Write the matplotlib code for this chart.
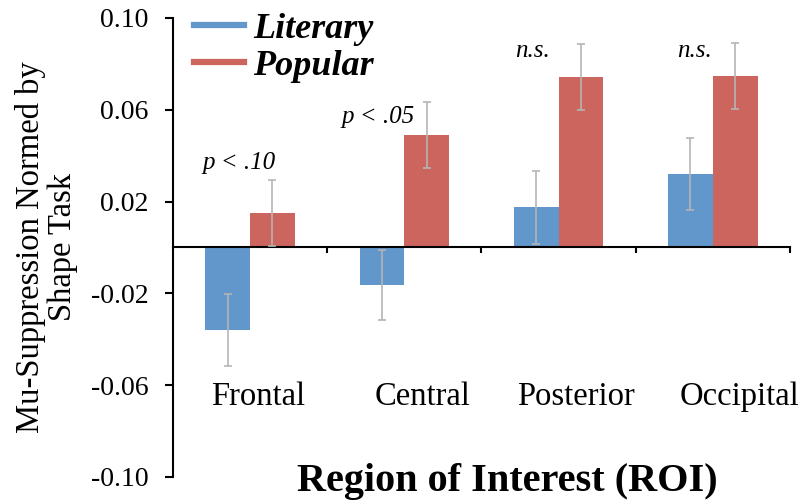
import numpy as np
import matplotlib
matplotlib.use('Agg')
import matplotlib.pyplot as plt

plt.rcParams['font.family'] = ['Liberation Serif', 'DejaVu Serif']

# datos
regiones = ['Frontal', 'Central', 'Posterior', 'Occipital']
literary = [-0.036, -0.0162, 0.0175, 0.032]
literary_err = [0.0158, 0.0152, 0.0160, 0.0158]
popular = [0.0152, 0.049, 0.0744, 0.0748]
popular_err = [0.0144, 0.0145, 0.0144, 0.0144]
anotaciones = ['p < .10', 'p < .05', 'n.s.', 'n.s.']
anot_y = [0.037, 0.057, 0.0858, 0.0858]
yticks = [-0.10, -0.06, -0.02, 0.02, 0.06, 0.10]

azul = '#6197CB'
rojo = '#CD655F'
gris = '#B5B5B5'

fig = plt.figure(figsize=(7.99, 5.04), dpi=100)
ax = fig.add_axes([0.2165, 0.0536, 0.7722, 0.9107])

x = np.arange(len(regiones))
w = 0.29
ax.bar(x - w/2, literary, w, color=azul, zorder=2)
ax.bar(x + w/2, popular, w, color=rojo, zorder=2)
ax.errorbar(x - w/2, literary, yerr=literary_err, fmt='none', ecolor=gris,
            elinewidth=1.2, capsize=3, capthick=1.2, zorder=3)
ax.errorbar(x + w/2, popular, yerr=popular_err, fmt='none', ecolor=gris,
            elinewidth=1.2, capsize=3, capthick=1.2, zorder=3)

ax.set_xlim(-0.5, 3.5)
ax.set_ylim(-0.10, 0.10)

ax.spines['top'].set_visible(False)
ax.spines['right'].set_visible(False)
ax.spines['bottom'].set_position(('data', 0))
ax.spines['left'].set_linewidth(1.5)
ax.spines['bottom'].set_linewidth(1.5)

ax.set_yticks(yticks)
ax.set_yticklabels(['%.2f' % v for v in yticks])
ax.tick_params(axis='y', direction='out', length=5.5, width=1.5, pad=12, labelsize=20)
ax.set_xticks([0.5, 1.5, 2.5, 3.5])
ax.set_xticklabels([])
ax.tick_params(axis='x', direction='out', length=4, width=1.5)

# etiquetas de categorias
etiq_x = [0.05, 1.12, 2.11, 3.17]
for xx, r in zip(etiq_x, regiones):
    ax.text(xx, -0.065, r, ha='center', va='center', fontsize=23.5)

# anotaciones de significancia
anot_x = [-0.07, 0.83, 1.83, 2.88]
for xx, yy, t in zip(anot_x, anot_y, anotaciones):
    ax.text(xx, yy, t, ha='center', va='center', fontsize=18, style='italic')

fig.text(0.058, 0.51, 'Mu-Suppression Normed by\nShape Task', rotation=90,
         ha='center', va='center', fontsize=23.5, linespacing=1.05)
fig.text(0.635, 0.044, 'Region of Interest (ROI)', ha='center', va='center',
         fontsize=29, fontweight='bold')

h1, = ax.plot([], [], color=azul, lw=4.5)
h2, = ax.plot([], [], color=rojo, lw=4.5)
leg = ax.legend([h1, h2], ['Literary', 'Popular'], loc='upper left',
                bbox_to_anchor=(-0.018, 1.082), frameon=False, handlelength=1.38,
                handletextpad=0.25, labelspacing=0.1,
                prop={'size': 26, 'weight': 'bold', 'style': 'italic'})

fig.savefig('out.png', dpi=100)
